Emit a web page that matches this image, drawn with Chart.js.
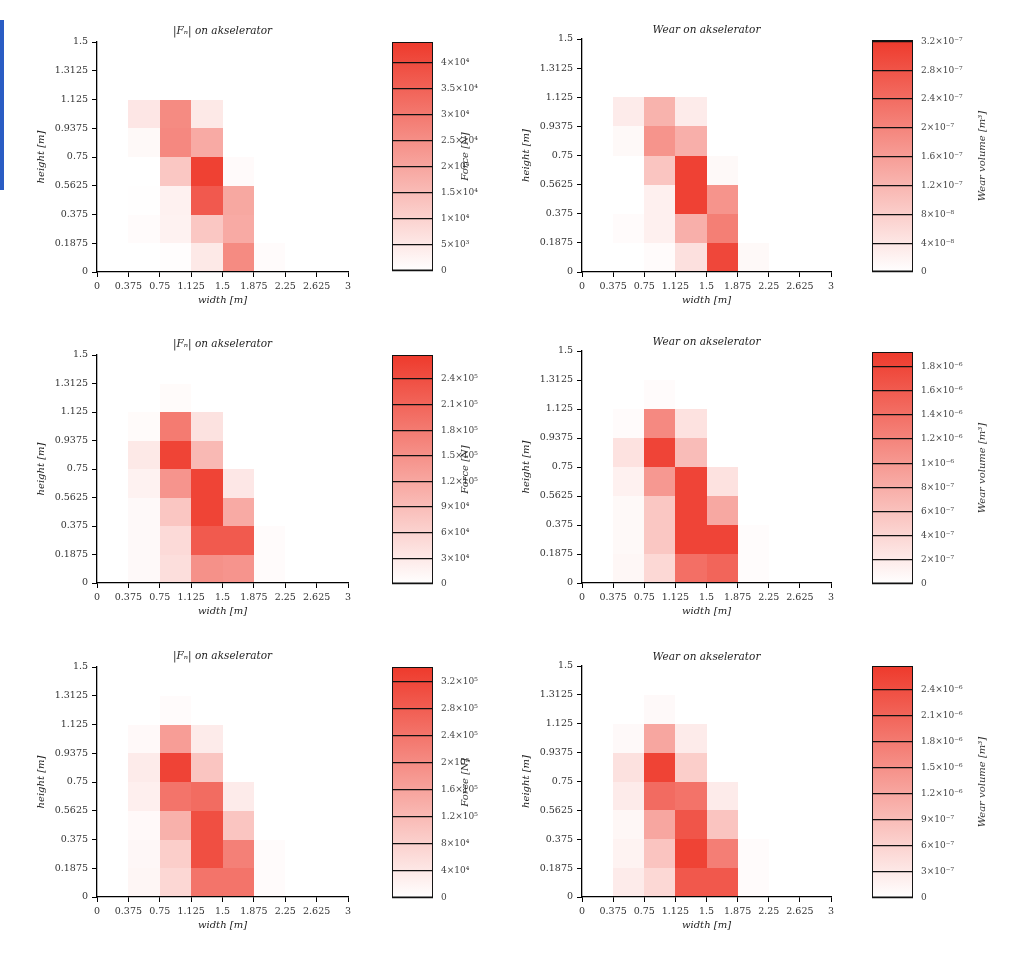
<!DOCTYPE html>
<html>
<head>
<meta charset="utf-8">
<script src="https://cdn.jsdelivr.net/npm/chart.js@4.4.1/dist/chart.umd.min.js"></script>
<style>
html,body{margin:0;padding:0;background:#fff;width:1024px;height:963px;overflow:hidden;}
.holder{position:absolute;}
.holder canvas{display:block;}
</style>
</head>
<body>
<div style="position:absolute;left:0;top:20px;width:4px;height:170px;background:#2a5cc4"></div>
<script>
// ---------- data ----------
const xEdges = [0, 0.375, 0.75, 1.125, 1.5, 1.875, 2.25, 2.625, 3];
const yEdges = [0, 0.1875, 0.375, 0.5625, 0.75, 0.9375, 1.125, 1.3125, 1.5];
const xTickValues = [0, 0.375, 0.75, 1.125, 1.5, 1.875, 2.25, 2.625, 3];
const xTickLabels = ['0', '0.375', '0.75', '1.125', '1.5', '1.875', '2.25', '2.625', '3'];
const yTickValues = [0, 0.1875, 0.375, 0.5625, 0.75, 0.9375, 1.125, 1.3125, 1.5];
const yTickLabels = ['0', '0.1875', '0.375', '0.5625', '0.75', '0.9375', '1.125', '1.3125', '1.5'];

// rows listed bottom (height 0) to top, columns left (width 0) to right
const force1 = [
  [0, 0, 400, 5000, 26000, 800, 0, 0],
  [0, 800, 3000, 12500, 19000, 0, 0, 0],
  [0, 300, 3200, 37000, 19500, 0, 0, 0],
  [0, 0, 12500, 42500, 1100, 0, 0, 0],
  [0, 1400, 26500, 19000, 0, 0, 0, 0],
  [0, 5500, 26000, 5000, 0, 0, 0, 0],
  [0, 0, 0, 0, 0, 0, 0, 0],
  [0, 0, 0, 0, 0, 0, 0, 0]
];
const wear1 = [
  [0, 0, 6e-9, 5e-8, 3.0e-7, 1e-8, 0, 0],
  [0, 6e-9, 2.5e-8, 1.3e-7, 2.1e-7, 0, 0, 0],
  [0, 0, 2.5e-8, 3.1e-7, 1.75e-7, 0, 0, 0],
  [0, 0, 9.5e-8, 3.1e-7, 1e-8, 0, 0, 0],
  [0, 1e-8, 1.75e-7, 1.3e-7, 0, 0, 0, 0],
  [0, 3.2e-8, 1.25e-7, 3.2e-8, 0, 0, 0, 0],
  [0, 0, 0, 0, 0, 0, 0, 0],
  [0, 0, 0, 0, 0, 0, 0, 0]
];
const force2 = [
  [0, 8000, 45000, 150000, 145000, 5000, 0, 0],
  [0, 8000, 50000, 225000, 225000, 5000, 0, 0],
  [0, 8000, 78000, 255000, 115000, 0, 0, 0],
  [0, 18000, 145000, 255000, 32000, 0, 0, 0],
  [0, 30000, 255000, 95000, 0, 0, 0, 0],
  [0, 6000, 180000, 40000, 0, 0, 0, 0],
  [0, 0, 6000, 0, 0, 0, 0, 0],
  [0, 0, 0, 0, 0, 0, 0, 0]
];
const wear2 = [
  [0, 8e-8, 3.8e-7, 1.4e-6, 1.5e-6, 3e-8, 0, 0],
  [0, 6e-8, 5.5e-7, 1.82e-6, 1.82e-6, 3e-8, 0, 0],
  [0, 6e-8, 5.5e-7, 1.82e-6, 8.5e-7, 0, 0, 0],
  [0, 1.4e-7, 1.0e-6, 1.82e-6, 2.8e-7, 0, 0, 0],
  [0, 2.8e-7, 1.82e-6, 6.5e-7, 0, 0, 0, 0],
  [0, 4e-8, 1.15e-6, 2.8e-7, 0, 0, 0, 0],
  [0, 0, 4e-8, 0, 0, 0, 0, 0],
  [0, 0, 0, 0, 0, 0, 0, 0]
];
const force3 = [
  [0, 16000, 70000, 240000, 240000, 7000, 0, 0],
  [0, 13000, 85000, 305000, 220000, 7000, 0, 0],
  [0, 10000, 135000, 305000, 100000, 0, 0, 0],
  [0, 27000, 240000, 255000, 34000, 0, 0, 0],
  [0, 34000, 325000, 100000, 0, 0, 0, 0],
  [0, 10000, 170000, 34000, 0, 0, 0, 0],
  [0, 0, 7000, 0, 0, 0, 0, 0],
  [0, 0, 0, 0, 0, 0, 0, 0]
];
const wear3 = [
  [0, 2.7e-7, 5.3e-7, 2.27e-6, 2.27e-6, 5e-8, 0, 0],
  [0, 1.6e-7, 8e-7, 2.55e-6, 1.75e-6, 5e-8, 0, 0],
  [0, 1.1e-7, 1.2e-6, 2.3e-6, 8e-7, 0, 0, 0],
  [0, 2.7e-7, 2.0e-6, 1.9e-6, 2.7e-7, 0, 0, 0],
  [0, 4e-7, 2.55e-6, 6.7e-7, 0, 0, 0, 0],
  [0, 8e-8, 1.2e-6, 2.7e-7, 0, 0, 0, 0],
  [0, 0, 8e-8, 0, 0, 0, 0, 0],
  [0, 0, 0, 0, 0, 0, 0, 0]
];

// colour-bar ranges, ticks and labels
const force1Max = 44000;
const force1Ticks = [0, 5000, 10000, 15000, 20000, 25000, 30000, 35000, 40000];
const force1TickLabels = ['0', '5×10³', '1×10⁴', '1.5×10⁴', '2×10⁴', '2.5×10⁴', '3×10⁴', '3.5×10⁴', '4×10⁴'];
const wear1Max = 3.22e-7;
const wear1Ticks = [0, 4e-8, 8e-8, 1.2e-7, 1.6e-7, 2e-7, 2.4e-7, 2.8e-7, 3.2e-7];
const wear1TickLabels = ['0', '4×10⁻⁸', '8×10⁻⁸', '1.2×10⁻⁷', '1.6×10⁻⁷', '2×10⁻⁷', '2.4×10⁻⁷', '2.8×10⁻⁷', '3.2×10⁻⁷'];
const force2Max = 268000;
const force2Ticks = [0, 30000, 60000, 90000, 120000, 150000, 180000, 210000, 240000];
const force2TickLabels = ['0', '3×10⁴', '6×10⁴', '9×10⁴', '1.2×10⁵', '1.5×10⁵', '1.8×10⁵', '2.1×10⁵', '2.4×10⁵'];
const wear2Max = 1.92e-6;
const wear2Ticks = [0, 2e-7, 4e-7, 6e-7, 8e-7, 1e-6, 1.2e-6, 1.4e-6, 1.6e-6, 1.8e-6];
const wear2TickLabels = ['0', '2×10⁻⁷', '4×10⁻⁷', '6×10⁻⁷', '8×10⁻⁷', '1×10⁻⁶', '1.2×10⁻⁶', '1.4×10⁻⁶', '1.6×10⁻⁶', '1.8×10⁻⁶'];
const force3Max = 341000;
const force3Ticks = [0, 40000, 80000, 120000, 160000, 200000, 240000, 280000, 320000];
const force3TickLabels = ['0', '4×10⁴', '8×10⁴', '1.2×10⁵', '1.6×10⁵', '2×10⁵', '2.4×10⁵', '2.8×10⁵', '3.2×10⁵'];
const wear3Max = 2.67e-6;
const wear3Ticks = [0, 3e-7, 6e-7, 9e-7, 1.2e-6, 1.5e-6, 1.8e-6, 2.1e-6, 2.4e-6];
const wear3TickLabels = ['0', '3×10⁻⁷', '6×10⁻⁷', '9×10⁻⁷', '1.2×10⁻⁶', '1.5×10⁻⁶', '1.8×10⁻⁶', '2.1×10⁻⁶', '2.4×10⁻⁶'];

const forceTitle = '|Fₙ| on akselerator';
const wearTitle = 'Wear on akselerator';
const forceLabel = 'Force [N]';
const wearLabel = 'Wear volume [m³]';
const xTitle = 'width [m]';
const yTitle = 'height [m]';

// ---------- styling ----------
const FONT = "'DejaVu Serif', 'Liberation Serif', serif";
const RED = [238, 58, 44];
function colormap(t) {
  t = Math.max(0, Math.min(1, t));
  const r = Math.round(255 + (RED[0] - 255) * t);
  const g = Math.round(255 + (RED[1] - 255) * t);
  const b = Math.round(255 + (RED[2] - 255) * t);
  return `rgb(${r},${g},${b})`;
}

const heatPlugin = {
  id: 'heatCells',
  beforeDatasetsDraw(chart, args, opts) {
    if (!opts || !opts.max) return;
    const ctx = chart.ctx, xs = chart.scales.x, ys = chart.scales.y;
    ctx.save();
    chart.data.datasets[0].data.forEach(c => {
      const x0 = Math.round(xs.getPixelForValue(c.x)), x1 = Math.round(xs.getPixelForValue(c.x2));
      const y0 = Math.round(ys.getPixelForValue(c.y)), y1 = Math.round(ys.getPixelForValue(c.y2));
      ctx.fillStyle = colormap(c.v / opts.max);
      ctx.fillRect(x0, y1, x1 - x0, y0 - y1);
    });
    ctx.restore();
  }
};
const cbLabelPlugin = {
  id: 'cbLabel',
  afterDraw(chart, args, opts) {
    if (!opts || !opts.text) return;
    const ctx = chart.ctx, ys = chart.scales.y, ca = chart.chartArea;
    ctx.save();
    ctx.translate(ys.left + opts.offset, (ca.top + ca.bottom) / 2);
    ctx.rotate(-Math.PI / 2);
    ctx.textAlign = 'center';
    ctx.textBaseline = 'middle';
    ctx.font = `italic 10px ${FONT}`;
    ctx.fillStyle = '#333';
    ctx.fillText(opts.text, 0, 0);
    ctx.restore();
  }
};
Chart.register(heatPlugin, cbLabelPlugin);

function makeHolder(left, top, width, height) {
  const d = document.createElement('div');
  d.className = 'holder';
  d.style.left = left + 'px'; d.style.top = top + 'px';
  d.style.width = width + 'px'; d.style.height = height + 'px';
  const c = document.createElement('canvas');
  d.appendChild(c);
  document.body.appendChild(d);
  return c;
}

function heatPanel(p) {
  const canvas = makeHolder(p.left, p.areaTop - 20, 360, p.areaH + 60);
  const cells = [];
  p.values.forEach((row, j) => row.forEach((v, i) => {
    if (v > 0) cells.push({x: xEdges[i], y: yEdges[j], x2: xEdges[i + 1], y2: yEdges[j + 1], v: v});
  }));
  const tickFont = {family: FONT, size: 9.5};
  const titleFont = {family: FONT, size: 10, style: 'italic'};
  new Chart(canvas, {
    type: 'scatter',
    data: {datasets: [{data: cells, pointRadius: 0, pointHoverRadius: 0}]},
    options: {
      responsive: true, maintainAspectRatio: false, animation: false, events: [],
      layout: {padding: {top: 3, right: p.padRight, bottom: 0, left: 0}},
      plugins: {
        legend: {display: false}, tooltip: {enabled: false},
        title: {display: true, text: p.title, fullSize: false, color: '#222',
          font: {family: FONT, size: 10.5, style: 'italic', weight: 'normal', lineHeight: 1.2},
          padding: {top: p.titleTop, bottom: 4.4 - p.titleTop}},
        heatCells: {max: p.max}
      },
      scales: {
        x: {
          type: 'linear', min: 0, max: 3,
          afterBuildTicks: s => { s.ticks = xTickValues.map(v => ({value: v})); },
          afterFit: s => { s.height = 40; },
          grid: {drawOnChartArea: false, drawTicks: true, tickLength: 5, color: '#000', lineWidth: 1},
          border: {display: true, color: '#000', width: 1.3, z: 1},
          ticks: {autoSkip: false, maxRotation: 0, padding: 4, color: '#333', font: tickFont,
            callback: (v, i) => xTickLabels[i]},
          title: {display: true, text: xTitle, color: '#222', font: titleFont, padding: {top: 0, bottom: 6}}
        },
        y: {
          type: 'linear', min: 0, max: 1.5,
          afterBuildTicks: s => { s.ticks = yTickValues.map(v => ({value: v})); },
          afterFit: s => { s.width = 97; },
          grid: {drawOnChartArea: false, drawTicks: true, tickLength: 5, color: '#000', lineWidth: 1},
          border: {display: true, color: '#000', width: 1.3, z: 1},
          ticks: {autoSkip: false, padding: 4, color: '#333', font: tickFont,
            callback: (v, i) => yTickLabels[i]},
          title: {display: true, text: yTitle, color: '#222', font: titleFont, padding: {top: 35, bottom: 0}}
        }
      }
    }
  });
}

function colorbar(p) {
  const canvas = makeHolder(p.left, p.areaTop - 14, 41 + p.axisW, p.areaH + 28);
  new Chart(canvas, {
    type: 'bar',
    data: {labels: [''], datasets: [{
      data: [[0, p.max]],
      backgroundColor: c => {
        const ca = c.chart.chartArea;
        if (!ca) return 'rgba(0,0,0,0)';
        const g = c.chart.ctx.createLinearGradient(0, ca.bottom, 0, ca.top);
        g.addColorStop(0, colormap(0));
        g.addColorStop(1, colormap(1));
        return g;
      },
      borderColor: '#111', borderWidth: 1.3, borderSkipped: false,
      categoryPercentage: 1, barPercentage: 1
    }]},
    options: {
      responsive: true, maintainAspectRatio: false, animation: false, events: [],
      layout: {padding: {top: 14, bottom: 14, left: 0, right: 0}},
      plugins: {legend: {display: false}, tooltip: {enabled: false},
        cbLabel: {text: p.label, offset: p.labelOffset}},
      scales: {
        x: {display: false},
        y: {
          position: 'right', min: 0, max: p.max,
          afterBuildTicks: s => { s.ticks = p.ticks.map(v => ({value: v})); },
          afterFit: s => { s.width = p.axisW; },
          grid: {display: true, drawOnChartArea: true, drawTicks: false, color: '#111', lineWidth: 1.2, z: 1},
          border: {display: false},
          ticks: {autoSkip: false, padding: 8, color: '#444', font: {family: FONT, size: 9},
            callback: (v, i) => p.labels[i]}
        }
      }
    }
  });
}

heatPanel({left: 0, areaTop: 42, areaH: 230, padRight: 12, titleTop: 0, title: forceTitle, values: force1, max: force1Max});
heatPanel({left: 485, areaTop: 39, areaH: 233, padRight: 14, titleTop: 1.5, title: wearTitle, values: wear1, max: wear1Max});
heatPanel({left: 0, areaTop: 355, areaH: 228, padRight: 12, titleTop: 0, title: forceTitle, values: force2, max: force2Max});
heatPanel({left: 485, areaTop: 351, areaH: 232, padRight: 14, titleTop: 1.5, title: wearTitle, values: wear2, max: wear2Max});
heatPanel({left: 0, areaTop: 667, areaH: 230, padRight: 12, titleTop: 0, title: forceTitle, values: force3, max: force3Max});
heatPanel({left: 485, areaTop: 666, areaH: 231, padRight: 14, titleTop: 1.5, title: wearTitle, values: wear3, max: wear3Max});

colorbar({left: 392, areaTop: 42, areaH: 229, axisW: 90, max: force1Max, ticks: force1Ticks, labels: force1TickLabels, label: forceLabel, labelOffset: 32});
colorbar({left: 872, areaTop: 40, areaH: 232, axisW: 110, max: wear1Max, ticks: wear1Ticks, labels: wear1TickLabels, label: wearLabel, labelOffset: 69});
colorbar({left: 392, areaTop: 355, areaH: 229, axisW: 90, max: force2Max, ticks: force2Ticks, labels: force2TickLabels, label: forceLabel, labelOffset: 32});
colorbar({left: 872, areaTop: 352, areaH: 232, axisW: 110, max: wear2Max, ticks: wear2Ticks, labels: wear2TickLabels, label: wearLabel, labelOffset: 69});
colorbar({left: 392, areaTop: 667, areaH: 231, axisW: 90, max: force3Max, ticks: force3Ticks, labels: force3TickLabels, label: forceLabel, labelOffset: 32});
colorbar({left: 872, areaTop: 666, areaH: 232, axisW: 110, max: wear3Max, ticks: wear3Ticks, labels: wear3TickLabels, label: wearLabel, labelOffset: 69});
</script>
</body>
</html>
